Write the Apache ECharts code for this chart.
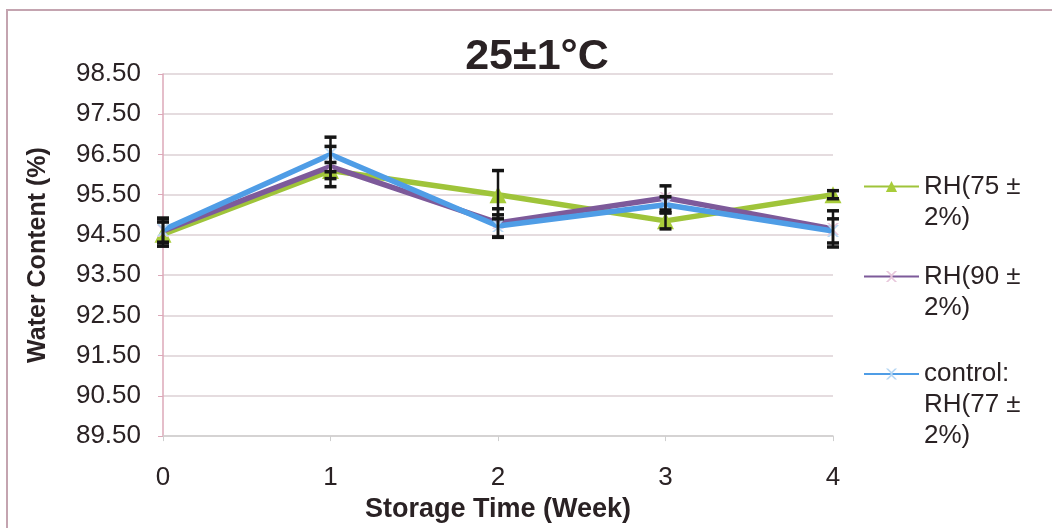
<!DOCTYPE html>
<html>
<head>
<meta charset="utf-8">
<script src="https://cdn.jsdelivr.net/npm/echarts@6/dist/echarts.min.js"></script>
<style>html,body{margin:0;padding:0;background:#fff;}#chart{width:1052px;height:528px;}</style>
</head>
<body>
<div id="chart"></div>
<script>
var weeks = ['0', '1', '2', '3', '4'];
var seriesNames = ['RH(75 ± 2%)', 'RH(90 ± 2%)', 'control: RH(77 ± 2%)'];
var legendLabels = ['RH(75 ±\n2%)', 'RH(90 ±\n2%)', 'control:\nRH(77 ±\n2%)'];
var rh75 = [94.52, 96.1, 95.5, 94.85, 95.5];
var rh75Err = [0.3, 0.2, 0.6, 0.2, 0.1];
var rh90 = [94.6, 96.2, 94.8, 95.42, 94.65];
var rh90Err = [0.3, 0.5, 0.35, 0.3, 0.45];
var control = [94.62, 96.5, 94.72, 95.25, 94.6];
var controlErr = [0.3, 0.43, 0.28, 0.2, 0.3];
var yTickMin = 89.5, yTickMax = 98.5, yTickStep = 1;

var FONT = 'Liberation Sans, Arial, sans-serif';
var TXT = '#2a2224';
var colors = ['#9fc43a', '#7d5a9a', '#4f9de6'];
var markerColors = ['#a8cc3a', '#e8c8dc', '#b8d8f4'];
var xPath = 'path://M0,0 L2,0 L5,3 L8,0 L10,0 L6,4 L6,6 L10,10 L8,10 L5,7 L2,10 L0,10 L4,6 L4,4 Z';
var symbols = ['triangle', xPath, xPath];
var symbolSizes = [17, 12, 12];
var values = [rh75, rh90, control];
var errs = [rh75Err, rh90Err, controlErr];

var chart = echarts.init(document.getElementById('chart'));

var series = [];
values.forEach(function (vals, k) {
  series.push({
    name: seriesNames[k],
    type: 'line',
    data: vals,
    symbol: symbols[k],
    symbolSize: symbolSizes[k],
    showAllSymbol: true,
    z: 2 + k,
    lineStyle: { color: colors[k], width: 5.5 },
    itemStyle: { color: markerColors[k] },
    emphasis: { disabled: true },
    animation: false
  });
});
values.forEach(function (vals, k) {
  series.push({
    name: 'err' + k,
    type: 'custom',
    z: 10,
    animation: false,
    encode: { x: 0, y: [1, 2] },
    data: vals.map(function (v, i) { return [i, v - errs[k][i], v + errs[k][i]]; }),
    renderItem: function (params, api) {
      var x = api.value(0);
      var top = api.coord([x, api.value(2)]);
      var bot = api.coord([x, api.value(1)]);
      var w = 6;
      var cap = { stroke: '#151515', lineWidth: 3.5 };
      return {
        type: 'group',
        children: [
          { type: 'line', shape: { x1: top[0], y1: top[1], x2: bot[0], y2: bot[1] }, style: { stroke: '#151515', lineWidth: 2.5 } },
          { type: 'line', shape: { x1: top[0] - w, y1: top[1], x2: top[0] + w, y2: top[1] }, style: cap },
          { type: 'line', shape: { x1: bot[0] - w, y1: bot[1], x2: bot[0] + w, y2: bot[1] }, style: cap }
        ]
      };
    }
  });
});

var LH = 31;
var firstLineCenters = [186.5, 276.5, 374];
var legends = seriesNames.map(function (nm, k) {
  var n = legendLabels[k].split('\n').length;
  var pad = '';
  for (var j = 1; j < n; j++) pad += '\n';
  return {
    orient: 'vertical',
    left: 863,
    top: firstLineCenters[k] - (2 * n - 1) * LH / 2,
    padding: 0,
    itemWidth: 55,
    itemHeight: 14,
    itemGap: 5,
    selectedMode: false,
    data: [nm],
    formatter: function () { return pad + legendLabels[k]; },
    textStyle: { fontFamily: FONT, fontSize: 26, color: TXT, lineHeight: LH }
  };
});

chart.setOption({
  animation: false,
  backgroundColor: '#ffffff',
  title: {
    text: '25±1°C',
    left: 532,
    top: 31,
    textAlign: 'center',
    textStyle: { fontFamily: FONT, fontSize: 43, fontWeight: 'bold', color: TXT }
  },
  graphic: [{
    type: 'rect',
    shape: { x: 7, y: 10, width: 1100, height: 600 },
    style: { fill: 'none', stroke: '#c4a4b0', lineWidth: 2 },
    silent: true
  }],
  legend: legends,
  grid: { left: 163, right: 219, top: 74, bottom: 81, containLabel: false },
  xAxis: {
    type: 'category',
    data: weeks,
    boundaryGap: false,
    name: 'Storage Time (Week)',
    nameLocation: 'middle',
    nameGap: 52,
    nameTextStyle: { fontFamily: FONT, fontSize: 27, fontWeight: 'bold', color: TXT },
    axisLine: { lineStyle: { color: '#cfcfcf', width: 1.5 } },
    axisTick: { show: true, length: 5, inside: false, lineStyle: { color: '#cfcfcf' } },
    axisLabel: { margin: 29, fontFamily: FONT, fontSize: 26, color: TXT },
    splitLine: { show: false }
  },
  yAxis: {
    type: 'value',
    min: yTickMin,
    max: yTickMax,
    interval: yTickStep,
    name: 'Water Content (%)',
    nameLocation: 'middle',
    nameGap: 112,
    nameTextStyle: { fontFamily: FONT, fontSize: 25, fontWeight: 'bold', color: TXT },
    axisLine: { show: true, lineStyle: { color: '#dca8b8', width: 1.5 } },
    axisTick: { show: true, length: 5, lineStyle: { color: '#dca8b8' } },
    axisLabel: { margin: 22, fontFamily: FONT, fontSize: 26, color: TXT, formatter: function (v) { return v.toFixed(2); } },
    splitLine: { show: true, lineStyle: { color: '#ddd0d4', width: 1.5 } }
  },
  series: series
});
</script>
</body>
</html>
